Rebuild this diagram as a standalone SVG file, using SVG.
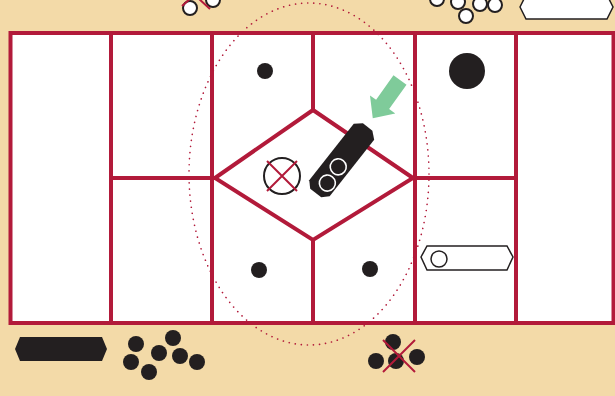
<svg xmlns="http://www.w3.org/2000/svg" width="615" height="396" viewBox="0 0 615 396">
<defs>
<style>
.ln{stroke:#b21a3a;stroke-width:4;fill:none;stroke-linecap:square}
.dot{fill:#231f20}
.wc{fill:#fff;stroke:#231f20;stroke-width:2}
.x{stroke:#b21a3a;stroke-width:2;fill:none}
</style>
</defs>
<rect width="615" height="396" fill="#f3daa8"/>
<g id="board">
<rect x="10.5" y="33" width="603" height="290" fill="#fff"/>
<rect x="10.5" y="33" width="603" height="290" class="ln"/>
</g>
<g id="connectors">
<path class="ln" d="M111 33V323M212 33V323M415 33V323M516 33V323M313 33V110M313 240V323M111 178H215M413 178H516"/>
<path class="ln" d="M215 178L313 110L413 178L313 240Z" stroke-linejoin="miter"/>
<ellipse cx="309" cy="174" rx="120" ry="171" fill="none" stroke="#b21a3a" stroke-width="1.6" stroke-dasharray="0.1 6" stroke-linecap="round"/>
</g>
<g id="dots">
<circle class="dot" cx="265" cy="71" r="8"/>
<circle class="dot" cx="259" cy="270" r="8"/>
<circle class="dot" cx="370" cy="269" r="8"/>
<circle class="dot" cx="467" cy="71" r="18"/>
</g>
<g id="crossed-circle">
<circle cx="282" cy="176" r="18" fill="none" stroke="#231f20" stroke-width="2"/>
<path class="x" d="M267 161L297 191M297 161L267 191"/>
</g>
<g id="piece" transform="translate(341.7 160) rotate(-51.8)">
<path d="M-42 -7L-36 -13H36L42 -6V6L36 13H-36L-42 7Z" fill="#231f20"/>
<circle cx="-27" cy="3" r="8" fill="none" stroke="#fff" stroke-width="1.6"/>
<circle cx="-7.5" cy="1.5" r="8" fill="none" stroke="#fff" stroke-width="1.6"/>
</g>
<g id="arrow">
<path d="M0 -8L30 -8L30 -15.5L47 0L30 15.5L30 8L0 8Z" fill="#7fcb9a" transform="translate(400 80) rotate(125.4)"/>
</g>
<g id="white-hex">
<path d="M421 257L427 246H507L513 257L507 270H427Z" fill="#fff" stroke="#231f20" stroke-width="1.5"/>
<circle cx="439" cy="259" r="8" fill="none" stroke="#231f20" stroke-width="1.5"/>
</g>
<g id="black-hex">
<path d="M15 349L20 337H102L107 349L102 361H20Z" fill="#231f20"/>
</g>
<g id="black-cluster">
<circle class="dot" cx="136" cy="344" r="8"/>
<circle class="dot" cx="173" cy="338" r="8"/>
<circle class="dot" cx="159" cy="353" r="8"/>
<circle class="dot" cx="180" cy="356" r="8"/>
<circle class="dot" cx="131" cy="362" r="8"/>
<circle class="dot" cx="197" cy="362" r="8"/>
<circle class="dot" cx="149" cy="372" r="8"/>
</g>
<g id="crossed-cluster">
<circle class="dot" cx="393" cy="342" r="8"/>
<circle class="dot" cx="376" cy="361" r="8"/>
<circle class="dot" cx="396" cy="361" r="8"/>
<circle class="dot" cx="417" cy="357" r="8"/>
<path class="x" d="M383 340L415 372M415 340L383 372"/>
</g>
<g id="top-left-cluster">
<circle class="wc" cx="190" cy="8" r="7"/>
<circle class="wc" cx="213" cy="0" r="7"/>
<path class="x" d="M182 6L191 -2M198 -2L210 9"/>
</g>
<g id="top-right-cluster">
<circle class="wc" cx="437" cy="-1" r="7"/>
<circle class="wc" cx="458" cy="2" r="7"/>
<circle class="wc" cx="480" cy="4" r="7"/>
<circle class="wc" cx="495" cy="5" r="7"/>
<circle class="wc" cx="466" cy="16" r="7"/>
</g>
<g id="top-hex">
<path d="M520 7L526 19H607L613 7L607 -5H526Z" fill="#fff" stroke="#231f20" stroke-width="1.5"/>
</g>
</svg>
